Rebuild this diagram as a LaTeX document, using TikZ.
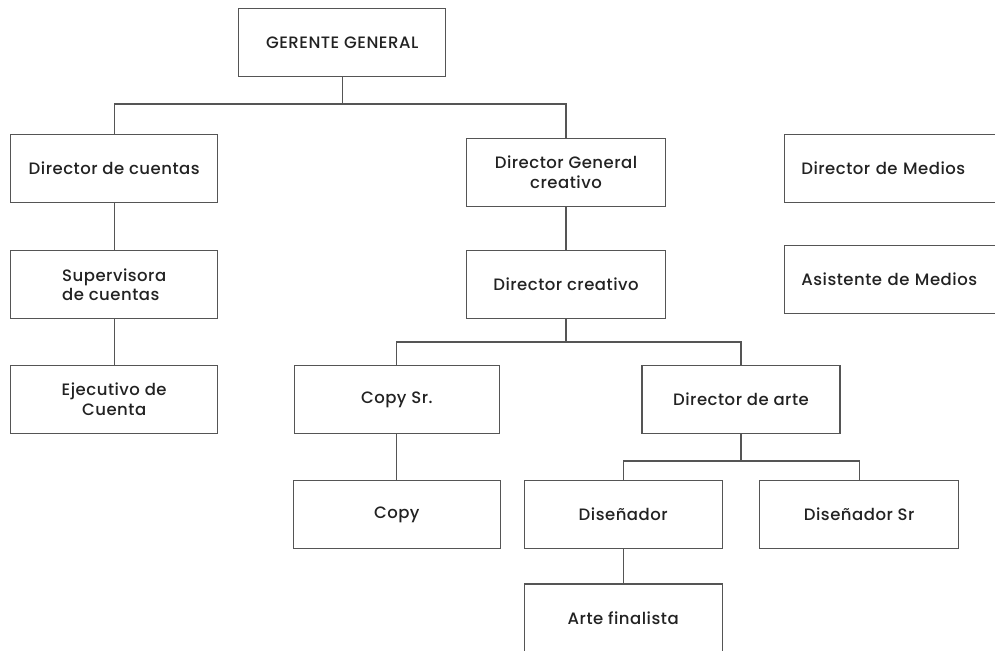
\documentclass[tikz,border=0pt]{standalone}
\usepackage{fontspec}
\setmainfont{Poppins}[UprightFont=* Medium,LetterSpace=3]
\definecolor{linec}{HTML}{555555}
\definecolor{txtc}{HTML}{222222}
\begin{document}
\begin{tikzpicture}[x=1pt,y=-1pt,
  box/.style={draw=linec,line width=1.3pt,fill=white,minimum height=68pt,inner sep=2pt,
    text=txtc,font=\fontsize{16.5}{19.5}\selectfont,align=center},
  conn/.style={draw=linec,line width=1.3pt}]
\useasboundingbox (0,0) rectangle (995,650);
\fill[white] (0,0) rectangle (995,650);
\clip (0,0) rectangle (995,650);
\node[box,minimum width=207pt] (gg) at (342.2,42.3) {GERENTE GENERAL};
\node[box,minimum width=207pt] (dc) at (114.2,168.2) {Director de cuentas};
\node[box,minimum width=199pt] (dgc) at (566,172.2) {Director General\\creativo};
\node[box,text width=182pt,inner xsep=17pt,align=left,anchor=west] (dm) at (783.7,168.2) {Director de Medios};
\node[box,text width=182pt,inner xsep=17pt,align=left,anchor=west] (am) at (783.7,279.5) {Asistente de Medios};
\node[box,minimum width=207pt,align=left] (sup) at (114.2,284.7) {Supervisora\\de cuentas};
\node[box,minimum width=199pt] (dcr) at (566,284.5) {Director creativo};
\node[box,minimum width=207pt] (ej) at (114.2,399.3) {Ejecutivo de\\Cuenta};
\node[box,minimum width=205pt] (cs) at (396.8,399.5) {Copy Sr.};
\node[box,minimum width=198pt] (da) at (741,399.5) {Director de arte};
\node[box,minimum width=207pt] (cp) at (396.8,514.5) {Copy};
\node[box,minimum width=198pt] (dis) at (623.2,514.5) {Diseñador};
\node[box,minimum width=199pt] (dsr) at (859.2,514.5) {Diseñador Sr};
\node[box,minimum width=198pt] (af) at (623.2,618) {Arte finalista};
\coordinate (b1) at (342.2,104);
\coordinate (b2) at (566,342);
\coordinate (b3) at (741,461);
\path[conn] (gg.south) -- (b1);
\path[conn] (dc.north) |- (b1) -| (dgc.north);
\path[conn] (dc.south) -- (sup.north);
\path[conn] (sup.south) -- (ej.north);
\path[conn] (dgc.south) -- (dcr.north);
\path[conn] (dcr.south) -- (b2);
\path[conn] (cs.north) |- (b2) -| (da.north);
\path[conn] (cs.south) -- (cp.north);
\path[conn] (da.south) -- (b3);
\path[conn] (dis.north) |- (b3) -| (dsr.north);
\path[conn] (dis.south) -- (af.north);
\end{tikzpicture}
\end{document}
